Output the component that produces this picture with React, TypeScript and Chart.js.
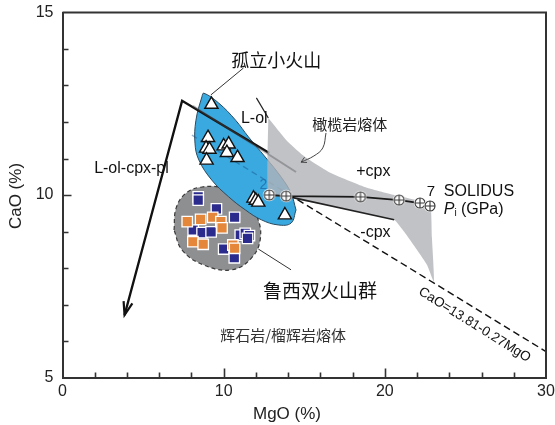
import React, { useEffect, useRef } from 'react';
import { Chart, registerables } from 'chart.js';

Chart.register(...registerables);

const FONT = "'Liberation Sans', Arial, Helvetica, sans-serif";
const CJK = "'Noto Sans CJK SC', 'Noto Sans', sans-serif";

// ---- axes ----
const X_MIN = 0;
const X_MAX = 30;
const Y_MIN = 5;
const Y_MAX = 15;
const X_STEP = 2;
const Y_STEP = 1;
const X_LABELED = [0, 10, 20, 30];
const Y_LABELED = [5, 10, 15];
const X_MAJOR = [10, 20];
const Y_MAJOR = [10];

// ---- 孤立小火山 samples (triangles) ----
const isoMgO = [9.24, 9.03, 8.91, 9.12, 8.94, 10.0, 10.31, 10.2, 10.86, 11.85, 11.99, 12.15, 13.8];
const isoCaO = [12.48, 11.57, 11.28, 11.25, 10.95, 11.34, 11.39, 11.16, 11.02, 9.91, 9.85, 9.8, 9.45];

// ---- 鲁西双火山群 samples (squares) ----
const luxiNavyMgO = [8.42, 8.42, 9.55, 10.68, 8.11, 8.66, 9.22, 11.03, 11.34, 11.6, 11.48, 10.0, 10.66];
const luxiNavyCaO = [9.95, 9.86, 9.62, 9.39, 9.04, 8.97, 8.99, 8.9, 8.95, 8.89, 8.81, 8.52, 8.28];
const luxiOrangeMgO = [7.74, 8.57, 9.32, 9.83, 9.9, 8.09, 8.73, 10.57, 10.68];
const luxiOrangeCaO = [9.27, 9.33, 9.39, 9.27, 9.1, 8.72, 8.65, 8.63, 8.54];

// ---- fields ----
const isoFieldMgO = [14.49, 14.18, 13.38, 12.34, 11.35, 10.31, 9.26, 8.46, 8.22, 8.28, 8.65, 8.77, 9.69, 10.74, 11.54, 12.58, 13.57, 14.18, 14.49];
const isoFieldCaO = [9.59, 9.23, 9.18, 9.32, 9.59, 9.95, 10.41, 10.96, 11.42, 12.05, 12.69, 12.79, 12.52, 12.05, 11.59, 11.04, 10.49, 10.05, 9.59];

const luxiFieldMgO = [6.92, 7.05, 7.66, 8.65, 10.0, 11.23, 12.03, 12.28, 11.72, 10.49, 8.77, 7.42, 6.92];
const luxiFieldCaO = [9.04, 9.64, 10.05, 10.22, 10.19, 9.95, 9.45, 8.82, 8.27, 7.95, 8.08, 8.49, 9.04];

const periFieldMgO = [12.77, 14.0, 15.05, 16.65, 18.74, 20.58, 22.0, 22.8, 22.92, 23.05, 22.62, 22.0, 21.2, 20.58, 19.54, 17.08, 14.62, 13.88, 12.77, 12.77];
const periFieldCaO = [12.11, 11.45, 11.04, 10.6, 10.22, 10.0, 9.86, 9.81, 8.85, 7.62, 8.08, 8.49, 8.99, 9.32, 9.42, 9.67, 9.86, 9.97, 10.0, 12.11];

// ---- lines ----
const olLineMgO = [3.85, 7.42, 12.83];
const olLineCaO = [6.71, 12.58, 11.15];
const solidusMgO = [12.83, 13.88, 18.49, 20.89, 22.18, 22.8];
const solidusCaO = [10.0, 9.97, 9.95, 9.86, 9.78, 9.7];
const cpxOutMgO = [13.88, 20.58];
const cpxOutCaO = [9.97, 9.32];
const eqLineMgO = [14, 30];
const eqLineCaO = [10.03, 5.71];
const eqHiddenMgO = [8.03, 14];
const eqHiddenCaO = [11.64, 10.03];
const isobarMgO = [8.09, 14.49];
const isobarCaO = [12.44, 10.63];
const periTopMgO = [12.03, 12.77];
const periTopCaO = [12.66, 12.11];
const leaderIsoMgO = [9.2, 11.23];
const leaderIsoCaO = [12.74, 13.48];
const leaderPeriMgO = [16.35, 16.15, 15.6, 14.8];
const leaderPeriCaO = [11.7, 11.29, 11.07, 10.9];
const leaderLuxiMgO = [12.15, 14.18];
const leaderLuxiCaO = [8.52, 7.95];

const pts = (xs: number[], ys: number[]) => xs.map((v, i) => ({ x: v, y: ys[i] }));

function lineDs(xs: number[], ys: number[], opts: any) {
  return {
    data: pts(xs, ys),
    showLine: true,
    pointRadius: 0,
    pointHoverRadius: 0,
    borderWidth: 1.5,
    borderColor: '#222',
    backgroundColor: 'transparent',
    fill: false,
    tension: 0,
    ...opts,
  };
}

function makeCrossCircle() {
  const c = document.createElement('canvas');
  c.width = 14;
  c.height = 14;
  const g = c.getContext('2d')!;
  g.fillStyle = '#fff';
  g.beginPath();
  g.arc(7, 7, 6.2, 0, Math.PI * 2);
  g.fill();
  g.strokeStyle = '#333';
  g.lineWidth = 1.1;
  g.beginPath();
  g.arc(7, 7, 5, 0, Math.PI * 2);
  g.stroke();
  g.beginPath();
  g.moveTo(2, 7);
  g.lineTo(12, 7);
  g.moveTo(7, 2);
  g.lineTo(7, 12);
  g.stroke();
  return c;
}

function arrowHead(ctx: CanvasRenderingContext2D, fx: number, fy: number, tx: number, ty: number, len: number, ang: number) {
  const a = Math.atan2(ty - fy, tx - fx);
  ctx.beginPath();
  ctx.moveTo(tx - len * Math.cos(a - ang), ty - len * Math.sin(a - ang));
  ctx.lineTo(tx, ty);
  ctx.lineTo(tx - len * Math.cos(a + ang), ty - len * Math.sin(a + ang));
  ctx.stroke();
}

const overlayPlugin = {
  id: 'overlay',
  afterDatasetsDraw(chart: any) {
    const { ctx, scales } = chart;
    const sx = (v: number) => scales.x.getPixelForValue(v);
    const sy = (v: number) => scales.y.getPixelForValue(v);
    ctx.save();
    ctx.strokeStyle = '#111';
    ctx.lineWidth = 2.2;
    arrowHead(ctx, sx(olLineMgO[1]), sy(olLineCaO[1]), sx(olLineMgO[0]), sy(olLineCaO[0]), 14, 0.33);
    ctx.strokeStyle = '#444';
    ctx.lineWidth = 1;
    const n = leaderPeriMgO.length;
    arrowHead(ctx, sx(leaderPeriMgO[n - 2]), sy(leaderPeriCaO[n - 2]), sx(leaderPeriMgO[n - 1]), sy(leaderPeriCaO[n - 1]), 6, 0.5);

    const text = (t: string, x: number, y: number, font: string, align: CanvasTextAlign = 'center', color = '#111', rot = 0) => {
      ctx.save();
      ctx.translate(sx(x), sy(y));
      if (rot) ctx.rotate(rot);
      ctx.font = font;
      ctx.fillStyle = color;
      ctx.textAlign = align;
      ctx.textBaseline = 'middle';
      ctx.fillText(t, 0, 0);
      ctx.restore();
    };
    text('孤立小火山', 13.26, 13.7, `18px ${CJK}`);
    text('L-ol', 11.9, 12.1, `16px ${FONT}`);
    text('L-ol-cpx-pl', 4.28, 10.71, `16px ${FONT}`);
    text('橄榄岩熔体', 17.82, 11.95, `15px ${CJK}`, 'center', '#222');
    text('+cpx', 19.29, 10.63, `16px ${FONT}`);
    text('-cpx', 19.42, 8.96, `16px ${FONT}`);
    text('鲁西双火山群', 15.97, 7.37, `19px ${CJK}`);
    text('辉石岩/榴辉岩熔体', 13.69, 6.16, `15px ${CJK}`, 'center', '#333');
    text('SOLIDUS', 23.66, 10.1, `16px ${FONT}`, 'left');
    text('P', 23.66, 9.59, `italic 16px ${FONT}`, 'left');
    text('i', 24.33, 9.5, `10px ${FONT}`, 'left');
    text('(GPa)', 24.72, 9.59, `16px ${FONT}`, 'left');
    text('7', 22.86, 10.08, `15px ${FONT}`);
    text('2', 12.46, 10.27, `14px ${FONT}`, 'center', 'rgba(30,110,170,0.85)');
    text('CaO=13.81-0.27MgO', 25.57, 6.44, `13.5px ${FONT}`, 'center', '#111', (32 * Math.PI) / 180);
    ctx.restore();
  },
  afterDraw(chart: any) {
    const { ctx, chartArea: a, scales } = chart;
    ctx.save();
    ctx.strokeStyle = '#333';
    ctx.lineWidth = 2;
    ctx.beginPath();
    ctx.moveTo(a.left, a.top);
    ctx.lineTo(a.right, a.top);
    ctx.lineTo(a.right, a.bottom);
    ctx.stroke();
    ctx.lineWidth = 1.6;
    ctx.beginPath();
    for (const t of scales.x.ticks) {
      const v = t.value;
      if (v <= X_MIN || v >= X_MAX) continue;
      const px = Math.round(scales.x.getPixelForValue(v)) + 0.5;
      const len = X_MAJOR.includes(v) ? 9 : 5;
      ctx.moveTo(px, a.bottom);
      ctx.lineTo(px, a.bottom - len);
    }
    for (const t of scales.y.ticks) {
      const v = t.value;
      if (v <= Y_MIN || v >= Y_MAX) continue;
      const py = Math.round(scales.y.getPixelForValue(v)) + 0.5;
      const len = Y_MAJOR.includes(v) ? 9 : 6;
      ctx.moveTo(a.left, py);
      ctx.lineTo(a.left + len, py);
    }
    ctx.stroke();
    ctx.fillStyle = '#222';
    ctx.font = `17px ${FONT}`;
    ctx.textAlign = 'center';
    ctx.textBaseline = 'middle';
    ctx.fillText('MgO (%)', 287, 414);
    ctx.translate(16.5, 196);
    ctx.rotate(-Math.PI / 2);
    ctx.fillText('CaO (%)', 0, 0);
    ctx.restore();
  },
};

export default function App() {
  const ref = useRef<HTMLCanvasElement>(null);
  useEffect(() => {
    document.body.style.margin = '0';
    const crossCircle = makeCrossCircle();
    const datasets: any[] = [
      lineDs(luxiFieldMgO, luxiFieldCaO, {
        order: 100, fill: 'shape', backgroundColor: '#8e8f91', borderColor: '#3a3a3a',
        borderWidth: 1.2, borderDash: [4, 3], tension: 0.4,
      }),
      lineDs(isoFieldMgO, isoFieldCaO, {
        order: 90, fill: 'shape', backgroundColor: '#3aa9e0', borderColor: '#2d4a5e',
        borderWidth: 1, tension: 0.4,
      }),
      lineDs(eqHiddenMgO, eqHiddenCaO, { order: 85, borderColor: 'rgba(20,80,130,0.45)', borderWidth: 1.3, borderDash: [6, 4] }),
      lineDs(olLineMgO, olLineCaO, { order: 80, borderColor: '#111', borderWidth: 2.3 }),
      lineDs(periFieldMgO, periFieldCaO, {
        order: 70, fill: 'shape', backgroundColor: 'rgba(178,179,184,0.8)', borderColor: 'rgba(0,0,0,0)',
        borderWidth: 0, tension: 0.15,
      }),
      lineDs(isobarMgO, isobarCaO, { order: 65, borderColor: 'rgba(80,80,85,0.4)', borderWidth: 2 }),
      lineDs(periTopMgO, periTopCaO, { order: 60, borderColor: '#222', borderWidth: 1.2 }),
      lineDs(cpxOutMgO, cpxOutCaO, { order: 60, borderColor: '#222', borderWidth: 1.6 }),
      lineDs(eqLineMgO, eqLineCaO, { order: 55, borderColor: '#111', borderWidth: 1.4, borderDash: [7, 4] }),
      lineDs(leaderIsoMgO, leaderIsoCaO, { order: 50, borderColor: '#333', borderWidth: 1 }),
      lineDs(leaderPeriMgO, leaderPeriCaO, { order: 50, borderColor: '#444', borderWidth: 1, tension: 0.4 }),
      lineDs(leaderLuxiMgO, leaderLuxiCaO, { order: 50, borderColor: '#333', borderWidth: 1 }),
      lineDs(solidusMgO, solidusCaO, { order: 40, borderColor: '#1a1a1a', borderWidth: 1.8 }),
      {
        order: 30, data: pts(solidusMgO, solidusCaO), pointStyle: crossCircle, pointRadius: 7,
        showLine: false,
      },
      {
        order: 20, data: pts(luxiNavyMgO, luxiNavyCaO), pointStyle: 'rect', pointRadius: 7.4,
        backgroundColor: '#2b2b8e', borderColor: '#ffffff', borderWidth: 1.3, showLine: false,
      },
      {
        order: 15, data: pts(luxiOrangeMgO, luxiOrangeCaO), pointStyle: 'rect', pointRadius: 7.4,
        backgroundColor: '#e5873b', borderColor: '#ffffff', borderWidth: 1.3, showLine: false,
      },
      {
        order: 10, data: pts(isoMgO, isoCaO), pointStyle: 'triangle', pointRadius: 7.6,
        backgroundColor: '#ffffff', borderColor: '#111', borderWidth: 1.4, showLine: false,
      },
    ];
    const chart = new Chart(ref.current!, {
      type: 'scatter',
      data: { datasets },
      options: {
        responsive: false,
        animation: false,
        devicePixelRatio: 1,
        layout: { padding: { left: 0, right: 5, top: 12.5, bottom: 0 } },
        plugins: { legend: { display: false }, tooltip: { enabled: false } },
        elements: { point: { hoverRadius: 0 } },
        scales: {
          x: {
            type: 'linear', min: X_MIN, max: X_MAX, position: 'bottom',
            grid: { display: false, drawTicks: false },
            border: { display: true, color: '#333', width: 2 },
            ticks: {
              stepSize: X_STEP, autoSkip: false, maxRotation: 0, padding: 4, color: '#222',
              font: { family: FONT, size: 16 },
              callback: (v: any) => (X_LABELED.includes(Number(v)) ? String(v) : ''),
            },
            afterFit: (s: any) => { s.height = 47.5; s.paddingLeft = 0; s.paddingRight = 0; },
          },
          y: {
            type: 'linear', min: Y_MIN, max: Y_MAX, position: 'left',
            grid: { display: false, drawTicks: false },
            border: { display: true, color: '#333', width: 2 },
            ticks: {
              stepSize: Y_STEP, autoSkip: false, padding: 9, color: '#222',
              font: { family: FONT, size: 16 },
              callback: (v: any) => (Y_LABELED.includes(Number(v)) ? String(v) : ''),
            },
            afterFit: (s: any) => { s.width = 62.5; s.paddingTop = 0; s.paddingBottom = 0; },
          },
        },
      } as any,
      plugins: [overlayPlugin],
    });
    return () => chart.destroy();
  }, []);
  return (
    <div style={{ position: 'fixed', left: 0, top: 0, width: 555, height: 425, background: '#fff' }}>
      <canvas ref={ref} width={555} height={425} style={{ width: 555, height: 425, display: 'block' }} />
    </div>
  );
}
